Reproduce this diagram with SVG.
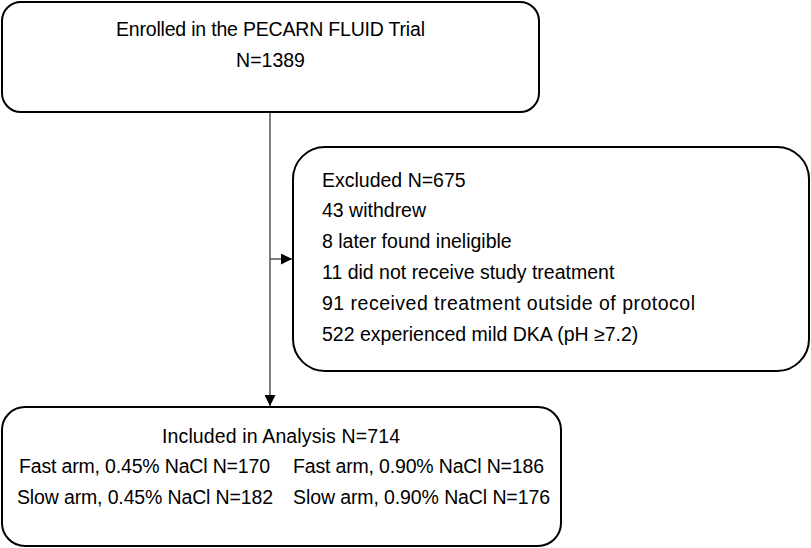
<svg xmlns="http://www.w3.org/2000/svg" width="811" height="548" viewBox="0 0 811 548">
<style>
.box{fill:#fff;stroke:#000;stroke-width:2}
text{font-family:"Liberation Sans",Arial,sans-serif;font-size:19.5px;fill:#000}
.c{text-anchor:middle}
.conn{stroke:#555;stroke-width:1.5;fill:none}
</style>
<defs>
<marker id="ah" viewBox="0 0 10 10" refX="10" refY="5" markerWidth="8" markerHeight="8" markerUnits="userSpaceOnUse" orient="auto">
<path d="M0,0 L10,5 L0,10 z" fill="#000"/>
</marker>
<marker id="ah2" viewBox="0 0 10 10" refX="10" refY="5" markerWidth="11" markerHeight="11" markerUnits="userSpaceOnUse" orient="auto">
<path d="M0,0 L10,5 L0,10 z" fill="#000"/>
</marker>
</defs>
<g id="connectors">
<line class="conn" x1="270" y1="112" x2="270" y2="406" marker-end="url(#ah2)"/>
<line class="conn" x1="270" y1="259" x2="292" y2="259" stroke="#000" marker-end="url(#ah2)"/>
</g>
<g id="enrolled">
<rect class="box" x="2" y="2" width="537" height="110" rx="19"/>
<text class="c" x="270.5" y="36" textLength="309" lengthAdjust="spacing">Enrolled in the PECARN FLUID Trial</text>
<text class="c" x="270.5" y="67">N=1389</text>
</g>
<g id="excluded">
<rect class="box" x="293" y="147" width="516" height="224" rx="32"/>
<text x="322" y="187">Excluded N=675</text>
<text x="322" y="217">43 withdrew</text>
<text x="322" y="248">8 later found ineligible</text>
<text x="322" y="279">11 did not receive study treatment</text>
<text x="322" y="310" textLength="373" lengthAdjust="spacing">91 received treatment outside of protocol</text>
<text x="322" y="341">522 experienced mild DKA (pH ≥7.2)</text>
</g>
<g id="included">
<rect class="box" x="2" y="407" width="559" height="139" rx="23"/>
<text class="c" x="281" y="443" textLength="238" lengthAdjust="spacing">Included in Analysis N=714</text>
<text x="19" y="473" textLength="251" lengthAdjust="spacing">Fast arm, 0.45% NaCl N=170</text>
<text x="293" y="473" textLength="251" lengthAdjust="spacing">Fast arm, 0.90% NaCl N=186</text>
<text x="17" y="504" textLength="256" lengthAdjust="spacing">Slow arm, 0.45% NaCl N=182</text>
<text x="293" y="504" textLength="257" lengthAdjust="spacing">Slow arm, 0.90% NaCl N=176</text>
</g>
</svg>
